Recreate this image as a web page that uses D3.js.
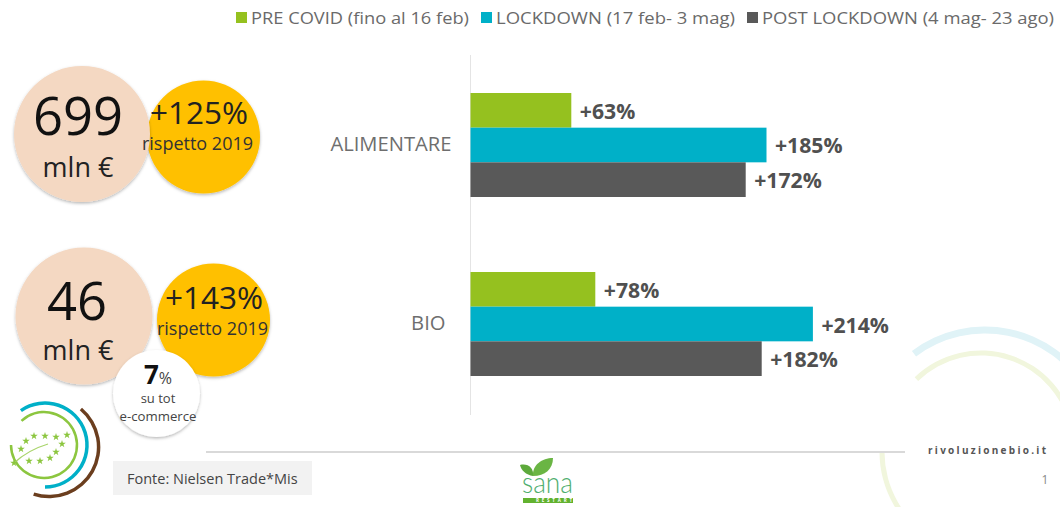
<!DOCTYPE html>
<html><head><meta charset="utf-8">
<script src="https://cdn.jsdelivr.net/npm/d3@7"></script>
<style>html,body{margin:0;padding:0;background:#fff}svg{display:block}text{font-family:"Open Sans",sans-serif}</style>
</head><body><svg id="c" width="1060" height="507"></svg>
<script>
const categories = ["ALIMENTARE","BIO"];
const seriesNames = ["PRE COVID (fino al 16 feb)","LOCKDOWN (17 feb- 3 mag)","POST LOCKDOWN (4 mag- 23 ago)"];
const preCovid = [63,78];
const lockdown = [185,214];
const postLockdown = [172,182];
const seriesColors = ["#95c11f","#00b0c8","#595959"];
const totals = ["699","46"];
const growth = ["+125%","+143%"];

const svg = d3.select("#c");
const defs = svg.append("defs");
const f = defs.append("filter").attr("id","sh").attr("x","-20%").attr("y","-20%").attr("width","140%").attr("height","140%");
f.append("feDropShadow").attr("dx",0).attr("dy",1.5).attr("stdDeviation",1.5).attr("flood-color","#000").attr("flood-opacity",.28);

const arc = d3.arc();
function ring(g,cx,cy,r,w,a0,a1,col){
  g.append("path").attr("transform",`translate(${cx},${cy})`)
   .attr("d",arc({innerRadius:r-w/2,outerRadius:r+w/2,startAngle:a0*Math.PI/180,endAngle:a1*Math.PI/180,cornerRadius:w/2}))
   .attr("fill",col);
}
// faded decorative arcs
const bg = svg.append("g");
ring(bg,985,448,118,7,-37,60,"#e0f3f7");
ring(bg,981,446,93,5,-44,80,"#f1f6dd");
ring(bg,985,452,103,5,-150,-90,"#f1f6dd");

// legend
const legendX=[236,481,747], legendText=[251,496,762];
const lg = svg.append("g").selectAll("g").data(seriesNames).join("g");
lg.append("rect").attr("x",(d,i)=>legendX[i]).attr("y",12).attr("width",11).attr("height",11).attr("fill",(d,i)=>seriesColors[i]);
lg.append("text").attr("x",(d,i)=>legendText[i]).attr("y",24).attr("font-size",17).attr("fill","#6a6a6a").text(d=>d)
  .attr("textLength",(d,i)=>[218,239,292][i]).attr("lengthAdjust","spacingAndGlyphs");

// bars
const x = d3.scaleLinear().domain([0,100]).range([470.5,630.5]);
const y = d3.scaleBand().domain(categories).range([93,376]).paddingInner(.419).paddingOuter(0);
const sub = d3.scaleBand().domain(d3.range(3)).range([0,y.bandwidth()]);
const values=[preCovid,lockdown,postLockdown];
const yAxis = svg.append("g").attr("transform","translate(470.5,0)").call(d3.axisLeft(y).tickSize(0).tickPadding(19));
yAxis.select(".domain").remove();
yAxis.selectAll("text").attr("font-size",20.2).attr("fill","#6e6e6e").style("font-family",'"Open Sans",sans-serif')
  .attr("dx",d=>d==="BIO"?-6:0);
svg.append("line").attr("x1",470.5).attr("x2",470.5).attr("y1",55).attr("y2",415).attr("stroke","#e4e4e4");
categories.forEach((c,ci)=>{
  values.forEach((v,si)=>{
    const yy=y(c)+sub(si);
    svg.append("rect").attr("x",x(0)).attr("y",yy).attr("width",x(v[ci])-x(0)).attr("height",sub.bandwidth()).attr("fill",seriesColors[si]);
    svg.append("text").attr("x",x(v[ci])+8.5).attr("y",yy+sub.bandwidth()/2+8.5).attr("font-size",21.2).attr("font-weight",700).attr("fill","#505050").text("+"+v[ci]+"%");
  });
});

// bubbles
function circ(cx,cy,r,col){svg.append("circle").attr("cx",cx).attr("cy",cy).attr("r",r).attr("fill",col).attr("filter","url(#sh)");}
function t(x,y,s,size,col,w){svg.append("text").attr("x",x).attr("y",y).attr("text-anchor","middle").attr("font-size",size).attr("fill",col||"#111").attr("font-weight",w||400).text(s);}
circ(203.5,137,56.5,"#ffc000");
circ(82,134,68,"#f4d8c2");
circ(213.5,320,56.5,"#ffc000");
circ(84,316,68.5,"#f4d8c2");
circ(156.5,393.5,43.5,"#fff");
t(78,135,totals[0],52.5,"#111");
t(78,177,"mln €",27,"#222");
t(199,124,growth[0],31.5,"#222");
t(197.5,150,"rispetto 2019",18,"#333");
t(77,320,totals[1],52.5,"#111");
t(78,360,"mln €",27,"#222");
t(214,309,growth[1],31.5,"#222");
t(212.5,335,"rispetto 2019",18,"#333");
svg.append("text").attr("x",158).attr("y",384).attr("text-anchor","middle").attr("fill","#111")
  .call(s=>{s.append("tspan").attr("font-size",26).attr("font-weight",700).text("7");s.append("tspan").attr("font-size",16).attr("fill","#444").text("%");});
t(158,403,"su tot",13,"#444");
t(158,421,"e-commerce",13.2,"#444");

// footer
svg.append("line").attr("x1",206).attr("x2",905).attr("y1",452).attr("y2",452).attr("stroke","#d9d9d9").attr("stroke-width",2);
svg.append("rect").attr("x",113).attr("y",461).attr("width",199).attr("height",34).attr("fill","#f2f2f2");
svg.append("text").attr("x",127).attr("y",484).attr("font-size",14.5).attr("fill","#444").text("Fonte: Nielsen Trade*Mis");
svg.append("text").attr("x",928).attr("y",454).attr("font-size",10).attr("font-weight",700).attr("textLength",118).attr("fill","#555").text("rivoluzionebio.it");
svg.append("text").attr("x",1045).attr("y",484).attr("text-anchor","middle").attr("font-size",12).attr("fill","#888").text("1");

// bio logo
const lo = svg.append("g");
ring(lo,44,445,33,2.5,-43,270,"#8cc63f");
ring(lo,45,445,42,3.5,-35,180,"#00b0c8");
ring(lo,49,447,49.6,3.5,40,198,"#6b3e1e");
lo.append("path").attr("d","M14,463 Q28,450 48,444").attr("fill","none").attr("stroke","#a8d46a").attr("stroke-width",1.2);
const starPts=[[26,441],[34,436],[45,436],[56,437],[67,435],[62,444],[56,452],[50,458],[40,461],[29,461],[21,449],[14,463]];
lo.selectAll(".s").data(starPts).join("path").attr("transform",d=>`translate(${d[0]},${d[1]})`)
  .attr("d",d3.symbol(d3.symbolStar,18)).attr("fill","#8cc63f");

// sana logo
const sa = svg.append("g");
sa.append("path").attr("d","M533,476 C526,475 521,470 520,465 C528,463 534,468 533,476Z").attr("fill","#5da93b");
sa.append("path").attr("d","M533,476 C532,465 542,458 553,458 C553,469 545,476 533,476Z").attr("fill","#6ab544");
svg.append("text").attr("x",522).attr("y",493).attr("font-size",30).attr("fill","#4fae6e").style("font-family","Lato").attr("font-weight",300).attr("textLength",51).attr("lengthAdjust","spacingAndGlyphs").text("sana");
svg.append("rect").attr("x",523).attr("y",498).attr("width",50).attr("height",5).attr("fill","#62b22f");
svg.append("text").attr("x",536).attr("y",502.3).attr("font-size",4.5).attr("font-weight",700).attr("fill","#fff").attr("textLength",36).text("RESTART");
</script></body></html>
